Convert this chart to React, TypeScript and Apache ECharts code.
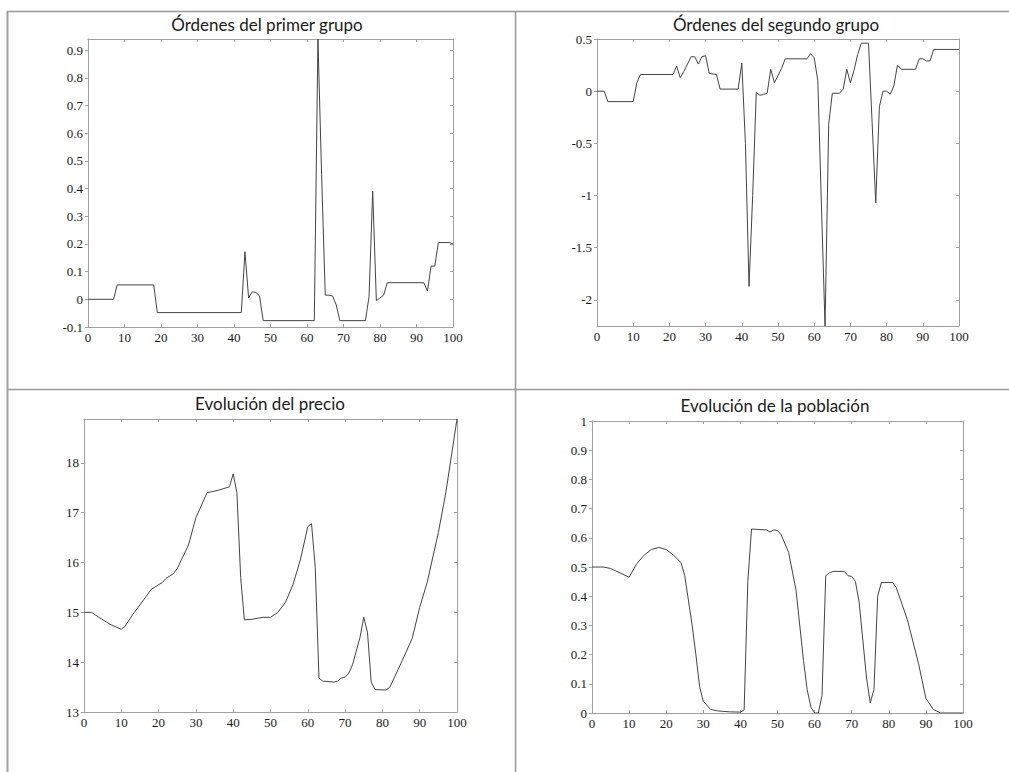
import React, { useEffect, useRef } from "react";
import * as echarts from "echarts";

const titles = [
  "Órdenes del primer grupo",
  "Órdenes del segundo grupo",
  "Evolución del precio",
  "Evolución de la población",
];

const xTicks = [0, 10, 20, 30, 40, 50, 60, 70, 80, 90, 100];

// Órdenes del primer grupo
const group1: [number, number][] = [
  [0, 0], [7, 0], [8, 0.052], [18, 0.052], [19, -0.048], [42, -0.048],
  [43, 0.172], [44, 0.005], [45, 0.027], [46, 0.025], [47, 0.012], [48, -0.077],
  [62, -0.077], [63, 0.94], [64, 0.45], [65, 0.015], [66, 0.015], [67, 0.012],
  [68, -0.02], [69, -0.077], [76, -0.077], [77, 0.01], [78, 0.39], [79, -0.005],
  [80, 0.005], [81, 0.015], [82, 0.06], [92, 0.06], [93, 0.03], [94, 0.12],
  [95, 0.12], [96, 0.205], [99, 0.205], [100, 0.2],
];

// Órdenes del segundo grupo
const group2: [number, number][] = [
  [0, 0], [2, 0], [3, -0.1], [10, -0.1], [11, 0.08], [12, 0.16], [21, 0.16],
  [22, 0.24], [23, 0.13], [24, 0.19], [25, 0.26], [26, 0.33], [27, 0.33],
  [28, 0.26], [29, 0.33], [30, 0.34], [31, 0.17], [33, 0.16], [34, 0.02],
  [39, 0.02], [40, 0.27], [41, -0.5], [42, -1.87], [43, -1.0], [44, -0.01],
  [45, -0.04], [46, -0.03], [47, -0.02], [48, 0.21], [49, 0.08], [50, 0.15],
  [51, 0.22], [52, 0.31], [58, 0.31], [59, 0.36], [60, 0.32], [61, 0.1],
  [62, -1.1], [63, -2.25], [64, -0.32], [65, -0.02], [67, -0.02], [68, 0.02],
  [69, 0.21], [70, 0.08], [71, 0.2], [72, 0.35], [73, 0.46], [75, 0.46],
  [76, -0.3], [77, -1.07], [78, -0.15], [79, 0.0], [80, 0.0], [81, -0.03],
  [82, 0.05], [83, 0.25], [84, 0.21], [88, 0.21], [89, 0.31], [90, 0.31],
  [91, 0.29], [92, 0.29], [93, 0.4], [100, 0.4],
];

// Evolución del precio
const price: [number, number][] = [
  [0, 15.0], [2, 15.0], [4, 14.9], [7, 14.76], [10, 14.66], [11, 14.72],
  [13, 14.95], [16, 15.25], [18, 15.46], [21, 15.6], [22, 15.68], [24, 15.78],
  [25, 15.88], [28, 16.35], [30, 16.9], [33, 17.4], [36, 17.45], [39, 17.52],
  [40, 17.78], [41, 17.4], [42, 15.7], [43, 14.85], [45, 14.86], [48, 14.9],
  [50, 14.9], [52, 15.0], [54, 15.2], [56, 15.55], [58, 16.05], [60, 16.72],
  [61, 16.78], [62, 15.9], [63, 13.68], [64, 13.62], [67, 13.6], [68, 13.62],
  [69, 13.68], [70, 13.7], [71, 13.78], [72, 13.95], [74, 14.5], [75, 14.9],
  [76, 14.6], [77, 13.6], [78, 13.45], [81, 13.44], [82, 13.5], [85, 13.98],
  [88, 14.48], [90, 15.1], [92, 15.6], [95, 16.6], [97, 17.4], [100, 18.88],
];

// Evolución de la población
const population: [number, number][] = [
  [0, 0.5], [3, 0.5], [5, 0.495], [10, 0.465], [12, 0.51], [14, 0.54],
  [16, 0.56], [18, 0.567], [20, 0.56], [22, 0.54], [24, 0.515], [25, 0.47],
  [27, 0.3], [28, 0.2], [29, 0.09], [30, 0.04], [32, 0.012], [34, 0.007],
  [37, 0.004], [40, 0.003], [41, 0.01], [42, 0.45], [43, 0.63], [47, 0.627],
  [48, 0.62], [49, 0.627], [50, 0.625], [51, 0.61], [53, 0.55], [55, 0.42],
  [57, 0.18], [58, 0.08], [59, 0.02], [60, 0.0], [61, 0.0], [62, 0.06],
  [63, 0.47], [64, 0.48], [65, 0.485], [68, 0.485], [69, 0.47], [70, 0.468],
  [71, 0.45], [72, 0.38], [74, 0.12], [75, 0.035], [76, 0.08], [77, 0.4],
  [78, 0.447], [81, 0.447], [82, 0.43], [85, 0.32], [88, 0.17], [90, 0.05],
  [92, 0.012], [94, 0.0], [100, 0.0],
];

const seriesData = [group1, group2, price, population];

// y ranges: [min, max, interval or null]
const yRanges: [number, number, number | null][] = [
  [-0.1, 0.94, 0.1],
  [-2.25, 0.5, null],
  [13, 18.88, 1],
  [0, 1, 0.1],
];

const grids = [
  { left: 88, top: 39, width: 365, height: 288 },
  { left: 597, top: 39, width: 362, height: 287 },
  { left: 84, top: 419, width: 373, height: 293 },
  { left: 592, top: 421, width: 371, height: 292 },
];

const titlePos = [
  { x: 267, y: 24 },
  { x: 776, y: 24 },
  { x: 270, y: 403 },
  { x: 775, y: 405 },
];

const AXIS_COLOR = "#a0a0a0";
const LABEL_FONT = "Liberation Serif, Times New Roman, serif";

export default function App() {
  const ref = useRef<HTMLDivElement>(null);

  useEffect(() => {
    if (!ref.current) return;
    const chart = echarts.init(ref.current, undefined, { renderer: "svg" });

    const fmt = (v: number) => String(Number(v.toFixed(2)));

    const xAxis: any[] = [];
    const yAxis: any[] = [];
    const series: any[] = [];

    grids.forEach((g, i) => {
      const [ymin, ymax, yint] = yRanges[i];
      xAxis.push({
        type: "value",
        gridIndex: i,
        position: "bottom",
        min: 0,
        max: 100,
        interval: 10,
        axisLine: { show: true, onZero: false, lineStyle: { color: AXIS_COLOR, width: 1 } },
        axisTick: { show: true, inside: true, length: 3, lineStyle: { color: AXIS_COLOR } },
        axisLabel: {
          show: true,
          margin: 4,
          color: "#1a1a1a",
          fontFamily: LABEL_FONT,
          fontSize: 13,
          formatter: (v: number) => (xTicks.includes(v) ? String(v) : ""),
        },
        splitLine: { show: false },
      });
      xAxis.push({
        type: "value",
        gridIndex: i,
        position: "top",
        min: 0,
        max: 100,
        interval: 10,
        axisLine: { show: true, onZero: false, lineStyle: { color: AXIS_COLOR, width: 1 } },
        axisTick: { show: true, inside: true, length: 3, lineStyle: { color: AXIS_COLOR } },
        axisLabel: { show: false },
        splitLine: { show: false },
      });
      const yBase: any = {
        type: "value",
        gridIndex: i,
        min: ymin,
        max: ymax,
        splitLine: { show: false },
      };
      if (yint !== null) yBase.interval = yint;
      else yBase.splitNumber = 5;
      yAxis.push({
        ...yBase,
        position: "left",
        axisLine: { show: true, onZero: false, lineStyle: { color: AXIS_COLOR, width: 1 } },
        axisTick: { show: true, inside: false, length: 3, lineStyle: { color: AXIS_COLOR } },
        axisLabel: {
          show: true,
          margin: 5,
          color: "#1a1a1a",
          fontFamily: LABEL_FONT,
          fontSize: 13,
          showMaxLabel: i === 3 || i === 1,
          showMinLabel: i !== 1,
          formatter: fmt,
        },
      });
      yAxis.push({
        ...yBase,
        position: "right",
        axisLine: { show: true, onZero: false, lineStyle: { color: AXIS_COLOR, width: 1 } },
        axisTick: { show: true, inside: true, length: 3, lineStyle: { color: AXIS_COLOR } },
        axisLabel: { show: false },
      });
      series.push({
        type: "line",
        xAxisIndex: i * 2,
        yAxisIndex: i * 2,
        data: seriesData[i],
        showSymbol: false,
        symbol: "none",
        lineStyle: { color: "#444", width: 1 },
        clip: true,
      });
    });

    const graphic: any[] = [
      { type: "line", shape: { x1: 7.5, y1: 11, x2: 7.5, y2: 772 }, style: { stroke: "#a0a0a0", lineWidth: 2 } },
      { type: "line", shape: { x1: 7, y1: 11.5, x2: 1009, y2: 11.5 }, style: { stroke: "#999", lineWidth: 1.5 } },
      { type: "line", shape: { x1: 515.5, y1: 11, x2: 515.5, y2: 772 }, style: { stroke: "#999", lineWidth: 1.5 } },
      { type: "line", shape: { x1: 7, y1: 389.5, x2: 1009, y2: 389.5 }, style: { stroke: "#999", lineWidth: 1.5 } },
    ];
    titles.forEach((t, i) => {
      graphic.push({
        type: "text",
        x: titlePos[i].x,
        y: titlePos[i].y,
        style: {
          text: t,
          fill: "#1a1a1a",
          font: "17px Lato",
          align: "center",
          verticalAlign: "middle",
        },
      });
    });

    chart.setOption({
      animation: false,
      backgroundColor: "#ffffff",
      textStyle: { fontFamily: LABEL_FONT },
      grid: grids.map((g) => ({ ...g, containLabel: false })),
      xAxis,
      yAxis,
      series,
      graphic,
    });

    return () => chart.dispose();
  }, []);

  return (
    <div
      ref={ref}
      style={{ position: "absolute", left: 0, top: 0, width: 1009, height: 772 }}
    />
  );
}
